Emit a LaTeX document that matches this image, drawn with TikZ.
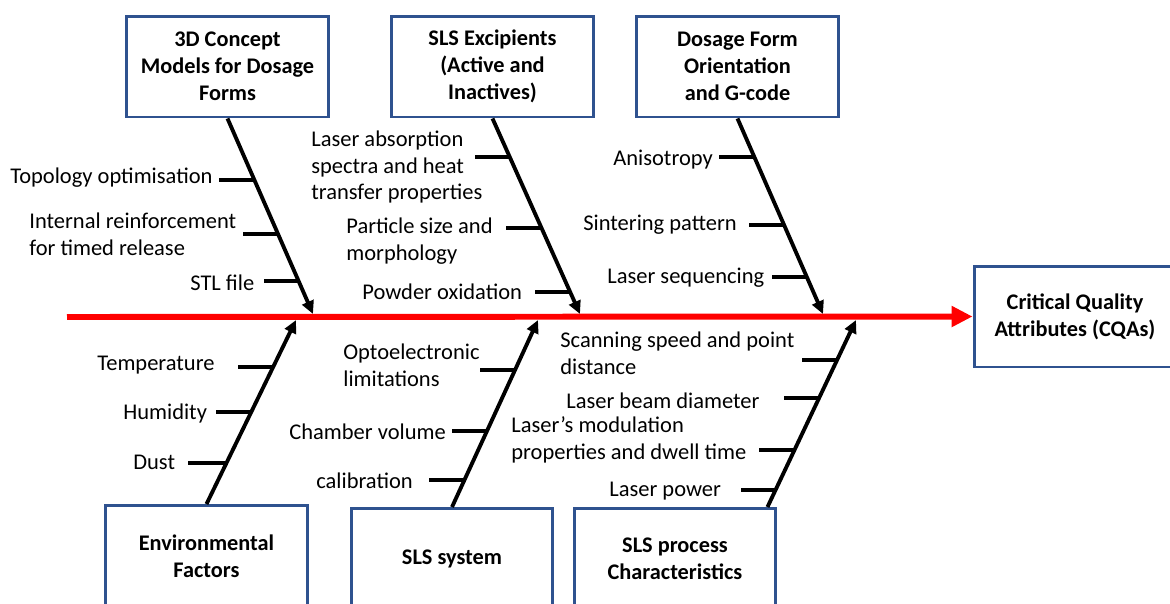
\documentclass[tikz,border=0pt]{standalone}
\usepackage{fontspec}
\setmainfont{Carlito}
\usepackage{tikz}
\usetikzlibrary{positioning,arrows.meta,calc}
\definecolor{cborde}{HTML}{2F528F}
\definecolor{crojo}{HTML}{FF0000}
\tikzset{
  caja/.style={rectangle, draw=cborde, line width=1.7pt, fill=white,
    minimum width=4.04cm, minimum height=2.02cm, inner sep=0pt, align=center,
    font=\fontsize{12.7}{15.3}\selectfont\bfseries},
  etq/.style={anchor=west, inner sep=0pt, align=left, yshift=-0.04cm,
    font=\fontsize{12.8}{15.3}\selectfont},
  espina/.style={-{Triangle[length=0.42cm, width=0.4cm]}, line width=3.4pt, draw=crojo},
  hueso/.style={-{Triangle[length=0.26cm, width=0.24cm]}, line width=2.2pt, draw=black},
  costilla/.style={line width=2.2pt, draw=black},
}
\begin{document}
\begin{tikzpicture}[x=0.02cm, y=-0.02cm]
  \useasboundingbox (0,0) rectangle (1170,603);
  % cajas de causas y efecto
  \node[caja] (c3d) at (227.5,66.5) {3D Concept\\Models for Dosage\\Forms};
  \node[caja] (exc) at (492.5,66.5) {SLS Excipients\\(Active and\\Inactives)};
  \node[caja] (ori) at (737.5,66.5) {Dosage Form\\Orientation\\and G-code};
  \node[caja] (cqa) at (1075,316.5) {Critical Quality\\Attributes (CQAs)};
  \node[caja] (amb) at (206.5,556) {Environmental\\Factors};
  \node[caja] (sis) at (452,559) {SLS system};
  \node[caja] (pro) at (675,559) {SLS process\\Characteristics};
  % espina principal
  \coordinate (cola) at (67,317);
  \draw[espina] (cola) -- (cqa.west);
  % huesos
  \coordinate (p1) at (313,314);
  \coordinate (p2) at (580,314);
  \coordinate (p3) at (823,314);
  \coordinate (p4) at (296,320);
  \coordinate (p5) at (538,320);
  \coordinate (p6) at (856,320);
  \coordinate (s6) at ($(pro.north east)+(-10,0)$);
  \draw[hueso] (c3d.south) -- (p1);
  \draw[hueso] (exc.south) -- (p2);
  \draw[hueso] (ori.south) -- (p3);
  \draw[hueso] (amb.north) -- (p4);
  \draw[hueso] (sis.north) -- (p5);
  \draw[hueso] (s6) -- (p6);
  % costillas
  \draw[costilla] ($(c3d.south)!0.315!(p1)$) -- ++(-35,0);
  \draw[costilla] ($(c3d.south)!0.589!(p1)$) -- ++(-35,0);
  \draw[costilla] ($(c3d.south)!0.832!(p1)$) -- ++(-35,0);
  \draw[costilla] ($(exc.south)!0.198!(p2)$) -- ++(-35,0);
  \draw[costilla] ($(exc.south)!0.558!(p2)$) -- ++(-35,0);
  \draw[costilla] ($(exc.south)!0.888!(p2)$) -- ++(-35,0);
  \draw[costilla] ($(ori.south)!0.198!(p3)$) -- ++(-35,0);
  \draw[costilla] ($(ori.south)!0.543!(p3)$) -- ++(-35,0);
  \draw[costilla] ($(ori.south)!0.812!(p3)$) -- ++(-35,0);
  \draw[costilla] ($(amb.north)!0.745!(p4)$) -- ++(-35,0);
  \draw[costilla] ($(amb.north)!0.5!(p4)$) -- ++(-35,0);
  \draw[costilla] ($(amb.north)!0.223!(p4)$) -- ++(-38,0);
  \draw[costilla] ($(sis.north)!0.733!(p5)$) -- ++(-35,0);
  \draw[costilla] ($(sis.north)!0.406!(p5)$) -- ++(-35,0);
  \draw[costilla] ($(sis.north)!0.144!(p5)$) -- ++(-35,0);
  \draw[costilla] ($(s6)!0.786!(p6)$) -- ++(-35,0);
  \draw[costilla] ($(s6)!0.583!(p6)$) -- ++(-35,0);
  \draw[costilla] ($(s6)!0.305!(p6)$) -- ++(-35,0);
  \draw[costilla] ($(s6)!0.091!(p6)$) -- ++(-35,0);
  % etiquetas
  \node[etq] (t11) at (10,176) {Topology optimisation};
  \node[etq] (t12) at (29,232.5) {Internal reinforcement\\for timed release};
  \node[etq] (t13) at (190,281) {STL file};
  \node[etq] (t21) at (311,165) {Laser absorption\\spectra and heat\\transfer properties};
  \node[etq] (t22) at (346,239.5) {Particle size and\\morphology};
  \node[etq] (t23) at (362,290) {Powder oxidation};
  \node[etq] (t31) at (613,158) {Anisotropy};
  \node[etq] (t32) at (583,223) {Sintering pattern};
  \node[etq] (t33) at (607,276) {Laser sequencing};
  \node[etq] (t41) at (97,363) {Temperature};
  \node[etq] (t42) at (123,411) {Humidity};
  \node[etq] (t43) at (133,460) {Dust};
  \node[etq] (t51) at (343,363.5) {Optoelectronic\\limitations};
  \node[etq] (t52) at (289,430) {Chamber volume};
  \node[etq] (t53) at (316,479) {calibration};
  \node[etq] (t61) at (560,351.5) {Scanning speed and point\\distance};
  \node[etq] (t62) at (566,399) {Laser beam diameter};
  \node[etq] (t63) at (511,437.5) {Laser’s modulation\\properties and dwell time};
  \node[etq] (t64) at (609,489) {Laser power};
\end{tikzpicture}
\end{document}
